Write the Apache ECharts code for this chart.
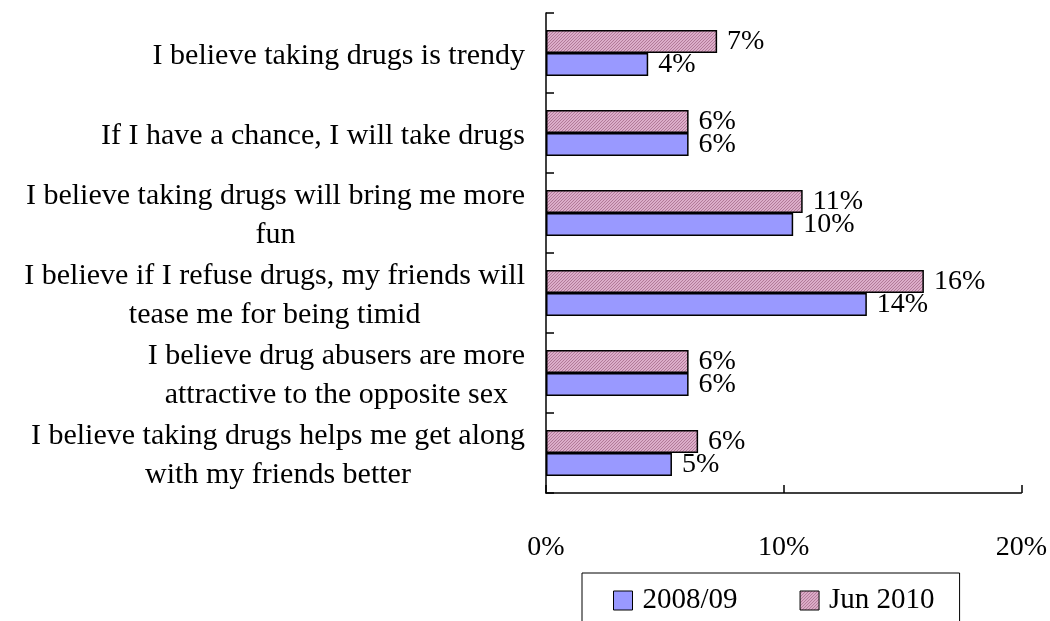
<!DOCTYPE html>
<html>
<head>
<meta charset="utf-8">
<script src="https://cdn.jsdelivr.net/npm/echarts@6/dist/echarts.min.js"></script>
<style>
  html, body { margin: 0; padding: 0; background: #fff; }
  #chart { width: 1050px; height: 621px; }
</style>
</head>
<body>
<div id="chart"></div>
<script>
// categories, top to bottom
const categories = [
  'I believe taking drugs is trendy',
  'If I have a chance, I will take drugs',
  'I believe taking drugs will bring me more\nfun',
  'I believe if I refuse drugs, my friends will\ntease me for being timid',
  'I believe drug abusers are more\nattractive to the opposite sex',
  'I believe taking drugs helps me get along\nwith my friends better'
]
const seriesNames = ['2008/09', 'Jun 2010']
const values0809 = [4.3, 6.0, 10.4, 13.5, 6.0, 5.3]
const valuesJun2010 = [7.2, 6.0, 10.8, 15.9, 6.0, 6.4]
const xTicks = [0, 10, 20]

const font = '"Times New Roman", "Liberation Serif", serif'

// fine hatched fill for the Jun 2010 bars
const makeHatch = () => {
  const c = document.createElement('canvas')
  c.width = 3
  c.height = 3
  const ctx = c.getContext('2d')
  ctx.fillStyle = '#dcadc9'
  ctx.fillRect(0, 0, 3, 3)
  ctx.fillStyle = '#b27a98'
  for (let i = 0; i < 3; i++) {
    ctx.fillRect(i, 2 - i, 1, 1)
  }
  return c
}

const chart = echarts.init(document.getElementById('chart'), null, { renderer: 'canvas' })

const labelStyle = {
  show: true,
  position: 'right',
  distance: 10,
  fontFamily: font,
  fontSize: 28,
  color: '#000',
  formatter: p => Math.round(p.value) + '%'
}

chart.setOption({
  animation: false,
  grid: { left: 546, right: 27, top: 13, bottom: 128, containLabel: false },
  legend: {
    data: seriesNames,
    icon: 'rect',
    left: 582,
    top: 573,
    padding: [13, 25, 40, 31],
    itemGap: 62,
    itemWidth: 19,
    itemHeight: 19,
    borderColor: '#000',
    borderWidth: 1,
    itemStyle: { borderColor: '#000', borderWidth: 1 },
    textStyle: { fontFamily: font, fontSize: 29, color: '#000', padding: [0, 0, 0, 5] }
  },
  xAxis: {
    type: 'value',
    min: xTicks[0],
    max: xTicks[xTicks.length - 1],
    interval: 10,
    splitLine: { show: false },
    axisLine: { show: true, lineStyle: { color: '#000', width: 1.5 } },
    axisTick: { show: true, inside: true, length: 8, lineStyle: { color: '#000', width: 1.5 } },
    axisLabel: { margin: 41, fontFamily: font, fontSize: 28, color: '#000', formatter: '{value}%' }
  },
  yAxis: {
    type: 'category',
    inverse: true,
    data: categories,
    axisLine: { show: true, lineStyle: { color: '#000', width: 1.5 } },
    axisTick: { show: true, inside: true, length: 8, lineStyle: { color: '#000', width: 1.5 } },
    axisLabel: {
      margin: 21,
      padding: [6, 0, 0, 0],
      formatter: v => v.split('\n').map(s => '{c|' + s + '}').join('\n'),
      rich: {
        c: { fontFamily: font, fontSize: 30, lineHeight: 39, color: '#000', align: 'center' }
      }
    }
  },
  // Jun 2010 listed first so it sits on top within each group
  series: [
    {
      name: seriesNames[1],
      type: 'bar',
      data: valuesJun2010,
      barWidth: 23,
      barGap: '0%',
      itemStyle: { color: { image: makeHatch(), repeat: 'repeat' }, borderColor: '#000', borderWidth: 1.5 },
      label: labelStyle
    },
    {
      name: seriesNames[0],
      type: 'bar',
      data: values0809,
      barWidth: 23,
      barGap: '0%',
      itemStyle: { color: '#9999ff', borderColor: '#000', borderWidth: 1.5 },
      label: labelStyle
    }
  ]
})
</script>
</body>
</html>
